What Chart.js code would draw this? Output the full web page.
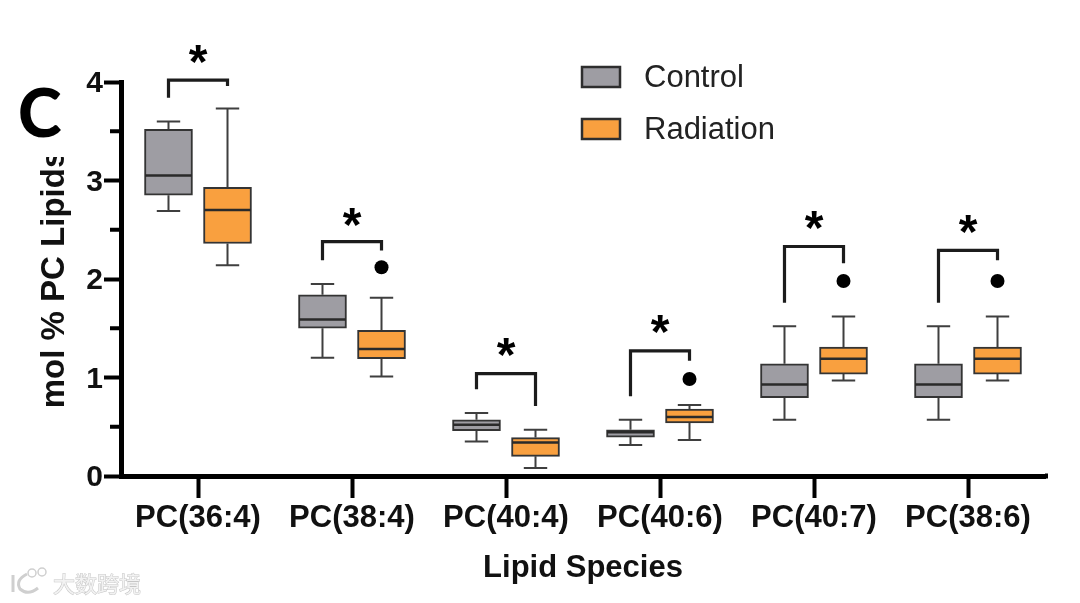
<!DOCTYPE html>
<html>
<head>
<meta charset="utf-8">
<style>
  html, body { margin: 0; padding: 0; background: #fff; }
  canvas { display: block; }
</style>
<script src="https://cdn.jsdelivr.net/npm/chart.js@4/dist/chart.umd.min.js"></script>
</head>
<body>
<canvas id="chart" width="1080" height="603"></canvas>
<script>
const categories = ["PC(36:4)", "PC(38:4)", "PC(40:4)", "PC(40:6)", "PC(40:7)", "PC(38:6)"];
const yTicks = [0, 1, 2, 3, 4];

const controlLow = [2.69, 1.2, 0.35, 0.315, 0.57, 0.57];
const controlQ1 = [2.85, 1.5, 0.46, 0.395, 0.795, 0.795];
const controlMedian = [3.05, 1.59, 0.52, 0.445, 0.93, 0.93];
const controlQ3 = [3.52, 1.84, 0.57, 0.47, 1.14, 1.14];
const controlHigh = [3.6, 1.95, 0.64, 0.57, 1.52, 1.52];

const radiationLow = [2.14, 1.01, 0.08, 0.365, 0.97, 0.97];
const radiationQ1 = [2.36, 1.19, 0.2, 0.54, 1.035, 1.035];
const radiationMedian = [2.7, 1.29, 0.34, 0.6, 1.19, 1.19];
const radiationQ3 = [2.93, 1.48, 0.39, 0.68, 1.31, 1.31];
const radiationHigh = [3.73, 1.81, 0.47, 0.72, 1.62, 1.62];
const radiationOutlier = [null, 2.12, null, 0.985, 1.98, 1.98];

const bracketTop = [4.02, 2.38, 1.04, 1.27, 2.33, 2.29];
const bracketLeftEnd = [3.84, 2.19, 0.88, 0.81, 1.76, 1.76];
const bracketRightEnd = [3.96, 2.29, 0.71, 1.17, 2.16, 2.19];
const starLevel = [4.28, 2.63, 1.31, 1.54, 2.6, 2.56];

const GRAY = "#9e9da3";
const ORANGE = "#f9a03f";
const EDGE = "#343434";
const SANS = '"Liberation Sans", Arial, sans-serif';

// offsets in category units (one category = 154px)
const boxOff = 0.1916;
const capHalf = 0.076;
const boxHalf = 0.152;

function whiskers(low, q1, q3, high, off) {
  const pts = [];
  categories.forEach((c, i) => {
    const x = i + off;
    pts.push({ x, y: q3[i] }, { x, y: high[i] }, { x: null, y: null });
    pts.push({ x: x - capHalf, y: high[i] }, { x: x + capHalf, y: high[i] }, { x: null, y: null });
    pts.push({ x, y: q1[i] }, { x, y: low[i] }, { x: null, y: null });
    pts.push({ x: x - capHalf, y: low[i] }, { x: x + capHalf, y: low[i] }, { x: null, y: null });
  });
  return pts;
}

function medians(med, off) {
  const pts = [];
  categories.forEach((c, i) => {
    pts.push({ x: i + off - boxHalf, y: med[i] }, { x: i + off + boxHalf, y: med[i] }, { x: null, y: null });
  });
  return pts;
}

function brackets() {
  const pts = [];
  categories.forEach((c, i) => {
    pts.push(
      { x: i - boxOff, y: bracketLeftEnd[i] },
      { x: i - boxOff, y: bracketTop[i] },
      { x: i + boxOff, y: bracketTop[i] },
      { x: i + boxOff, y: bracketRightEnd[i] },
      { x: null, y: null }
    );
  });
  return pts;
}

function lineSet(data, color, width, order) {
  return {
    type: "scatter",
    xAxisID: "x2",
    data,
    showLine: true,
    spanGaps: false,
    pointRadius: 0,
    borderColor: color,
    borderWidth: width,
    clip: false,
    order,
  };
}

function boxSet(label, q1, q3, off, color) {
  return {
    label,
    xAxisID: "x2",
    data: categories.map((c, i) => ({ x: i + off, y: [q1[i], q3[i]] })),
    backgroundColor: color,
    borderColor: EDGE,
    borderWidth: 2,
    borderSkipped: false,
    barThickness: 48,
    grouped: false,
    order: 4,
  };
}

// minor ticks, stars, legend, panel letter and watermark
const extras = {
  id: "extras",
  afterDraw(chart) {
    const { ctx, scales } = chart;
    const { x, x2, y } = scales;
    ctx.save();

    ctx.fillStyle = "#000";
    [0.5, 1.5, 2.5, 3.5].forEach((v) => {
      ctx.fillRect(x.left - 11, y.getPixelForValue(v) - 2, 11, 4);
    });
    ctx.fillRect(x.right, y.bottom - 2.5, 3, 5);

    ctx.font = "bold 48px " + SANS;
    ctx.textAlign = "center";
    ctx.textBaseline = "alphabetic";
    const m = ctx.measureText("*");
    starLevel.forEach((v, i) => {
      const py = y.getPixelForValue(v) + (m.actualBoundingBoxAscent - m.actualBoundingBoxDescent) / 2;
      ctx.fillText("*", x2.getPixelForValue(i), py);
    });

    // legend
    [["Control", GRAY, 67], ["Radiation", ORANGE, 119]].forEach(([label, color, top]) => {
      ctx.fillStyle = color;
      ctx.strokeStyle = "#2e2e2e";
      ctx.lineWidth = 2.5;
      ctx.fillRect(582, top, 38, 20);
      ctx.strokeRect(582, top, 38, 20);
      ctx.fillStyle = "#222";
      ctx.font = "31px " + SANS;
      ctx.textAlign = "left";
      ctx.textBaseline = "middle";
      ctx.fillText(label, 644, top + 11);
    });

    // the panel letter's box cuts off the end of the y title
    ctx.fillStyle = "#fff";
    ctx.fillRect(30, 70, 50, 87);
    ctx.fillStyle = "#000";
    ctx.font = '900 66px Lato, "Open Sans", sans-serif';
    ctx.textAlign = "left";
    ctx.textBaseline = "alphabetic";
    ctx.fillText("C", 18, 137);

    // watermark
    ctx.font = '22px "Noto Sans CJK SC", sans-serif';
    ctx.fillStyle = "#f2f2f2";
    ctx.strokeStyle = "#c6c6c6";
    ctx.lineWidth = 1;
    ctx.textBaseline = "middle";
    ctx.strokeText("大数跨境", 53, 584);
    ctx.fillText("大数跨境", 53, 584);
    ctx.strokeStyle = "#cfcfcf";
    ctx.lineWidth = 3;
    ctx.beginPath();
    ctx.moveTo(13, 575);
    ctx.lineTo(13, 592);
    ctx.moveTo(27, 574);
    ctx.quadraticCurveTo(15, 580, 20, 589);
    ctx.quadraticCurveTo(28, 596, 38, 588);
    ctx.stroke();
    ctx.lineWidth = 1.5;
    ctx.beginPath();
    ctx.arc(32, 573, 4, 0, Math.PI * 2);
    ctx.moveTo(46, 572);
    ctx.arc(42, 572, 4, 0, Math.PI * 2);
    ctx.stroke();

    ctx.restore();
  },
};

new Chart(document.getElementById("chart"), {
  type: "bar",
  plugins: [extras],
  data: {
    labels: categories,
    datasets: [
      lineSet(whiskers(controlLow, controlQ1, controlQ3, controlHigh, -boxOff), "#3f3f3f", 2, 5),
      lineSet(whiskers(radiationLow, radiationQ1, radiationQ3, radiationHigh, boxOff), "#3f3f3f", 2, 5),
      boxSet("Control", controlQ1, controlQ3, -boxOff, GRAY),
      boxSet("Radiation", radiationQ1, radiationQ3, boxOff, ORANGE),
      lineSet(medians(controlMedian, -boxOff), "#2a2a2a", 2.5, 3),
      lineSet(medians(radiationMedian, boxOff), "#2a2a2a", 2.5, 3),
      lineSet(brackets(), "#1c1c1c", 3.2, 2),
      {
        type: "scatter",
        xAxisID: "x2",
        data: categories.map((c, i) => ({ x: i + boxOff, y: radiationOutlier[i] })),
        pointRadius: 7,
        pointBackgroundColor: "#000",
        pointBorderWidth: 0,
        showLine: false,
        clip: false,
        order: 1,
      },
    ],
  },
  options: {
    responsive: false,
    animation: false,
    layout: { padding: { top: 82, right: 35, left: 0, bottom: 0 } },
    plugins: { legend: { display: false }, tooltip: { enabled: false } },
    scales: {
      x: {
        grid: {
          offset: false,
          drawOnChartArea: false,
          tickLength: 22,
          tickWidth: 4,
          tickColor: "#000",
        },
        border: { color: "#000", width: 5 },
        ticks: {
          color: "#111",
          font: { family: SANS, size: 31, weight: "bold" },
          padding: 2,
          maxRotation: 0,
          autoSkip: false,
        },
        title: {
          display: true,
          text: "Lipid Species",
          color: "#111",
          font: { family: SANS, size: 31, weight: "bold" },
          padding: { top: 0, bottom: 16 },
        },
        afterFit(axis) {
          axis.height = 127;
        },
      },
      x2: { type: "linear", display: false, offset: false, min: -0.5, max: 5.5 },
      y: {
        min: 0,
        max: 4,
        afterBuildTicks(axis) {
          axis.ticks = yTicks.map((v) => ({ value: v }));
        },
        grid: {
          drawOnChartArea: false,
          tickLength: 17,
          tickWidth: 4,
          tickColor: "#000",
        },
        border: { color: "#000", width: 5 },
        ticks: {
          color: "#111",
          font: { family: SANS, size: 30, weight: "bold" },
          padding: 1,
          labelOffset: 2,
        },
        title: {
          display: true,
          text: "mol % PC Lipids",
          color: "#111",
          font: { family: SANS, size: 33, weight: "bold" },
          padding: { top: 35, bottom: 0 },
        },
        afterFit(axis) {
          axis.width = 121;
        },
      },
    },
  },
});
</script>
</body>
</html>
